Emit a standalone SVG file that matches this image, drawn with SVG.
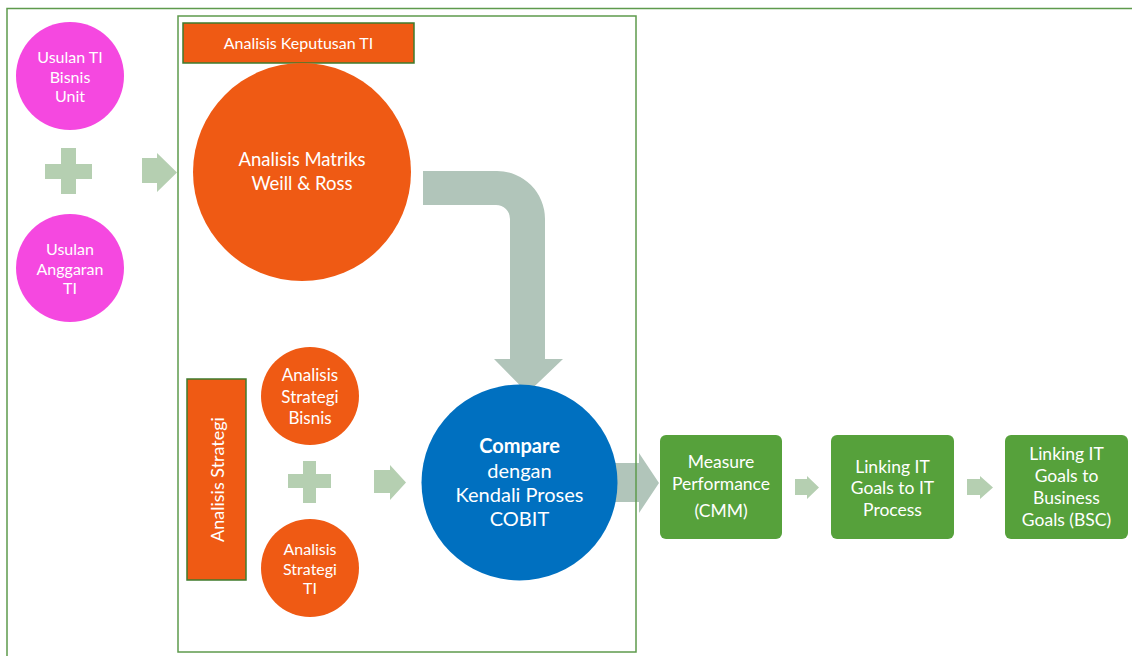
<svg xmlns="http://www.w3.org/2000/svg" width="1132" height="656" viewBox="0 0 1132 656">
  <defs>
    <style>
      .t { font-family: Lato, "Open Sans", "Liberation Sans", sans-serif; fill: #ffffff; text-anchor: middle; dominant-baseline: central; }
      .frame { fill: none; stroke: #5E9A4C; stroke-width: 1.5; }
      .pink { fill: #F548E0; }
      .orange { fill: #EF5A14; }
      .tag { fill: #EF5A14; stroke: #3F7B2C; stroke-width: 1.5; }
      .blue { fill: #0070C0; }
      .box { fill: #56A13B; }
      .plus { fill: #B5CFB1; }
      .arr { fill: #B5CFB1; }
      .flow { fill: #B1C5BA; }
    </style>
  </defs>
  <rect width="1132" height="656" fill="#ffffff"/>

  <!-- connectors and operators -->
  <g id="connectors">
    <!-- plus between the two proposals -->
    <path class="plus" d="M61 148 H76 V164 H92 V179 H76 V194 H61 V179 H45 V164 H61 Z"/>
    <!-- proposals to decision analysis -->
    <path class="arr" d="M142 158 H157 V153 L177 172.5 L157 192 V183 H142 Z"/>
    <!-- bent arrow: Weill & Ross to COBIT -->
    <path class="flow" d="M423 171 H497 A48 48 0 0 1 545 219 V359 H563 L527.5 393 L494 359 H510 V219 A14 14 0 0 0 496 205 H423 Z"/>
    <!-- plus between the two strategy analyses -->
    <path class="plus" d="M303 461 H316 V474 H331 V488 H316 V503 H303 V488 H288 V474 H303 Z"/>
    <!-- strategy to COBIT -->
    <path class="arr" d="M374 470 H390 V465 L406 482.5 L390 500 V493 H374 Z"/>
    <!-- COBIT to Measure Performance -->
    <path class="flow" d="M612 463 H639 V453 L659 483 L639 513 V502 H612 Z"/>
    <!-- process chain -->
    <path class="arr" d="M795 479 H807 V476 L819 487.5 L807 499 V495 H795 Z"/>
    <path class="arr" d="M967 479 H980 V476 L993 487.5 L980 499 V495 H967 Z"/>
  </g>

  <!-- frames -->
  <g id="frames">
    <path class="frame" d="M7 660 V8.5 H1140"/>
    <rect class="frame" x="178" y="16" width="458" height="636"/>
  </g>

  <g id="usulan-ti">
    <circle class="pink" cx="70" cy="76" r="54"/>
    <text class="t" font-size="16" x="70" y="56">Usulan TI</text>
    <text class="t" font-size="16" x="70" y="76">Bisnis</text>
    <text class="t" font-size="16" x="70" y="95">Unit</text>
  </g>

  <g id="usulan-anggaran">
    <circle class="pink" cx="70" cy="268" r="54"/>
    <text class="t" font-size="16" x="70" y="248">Usulan</text>
    <text class="t" font-size="16" x="70" y="268">Anggaran</text>
    <text class="t" font-size="16" x="70" y="287">TI</text>
  </g>

  <g id="analisis-keputusan">
    <rect class="tag" x="183" y="23" width="231" height="40"/>
    <text class="t" font-size="16" x="298.5" y="42">Analisis Keputusan TI</text>
  </g>

  <g id="matriks-weill-ross">
    <circle class="orange" cx="302" cy="172" r="109"/>
    <text class="t" font-size="18.5" x="302" y="159">Analisis Matriks</text>
    <text class="t" font-size="18.5" x="302" y="183">Weill &amp; Ross</text>
  </g>

  <g id="analisis-strategi">
    <rect class="tag" x="187" y="379" width="59" height="201"/>
    <text class="t" font-size="18" x="0" y="0" transform="translate(216.5 479.5) rotate(-90)">Analisis Strategi</text>
  </g>

  <g id="strategi-bisnis">
    <circle class="orange" cx="310" cy="396" r="49"/>
    <text class="t" font-size="17" x="310" y="374">Analisis</text>
    <text class="t" font-size="17" x="310" y="396">Strategi</text>
    <text class="t" font-size="17" x="310" y="417">Bisnis</text>
  </g>

  <g id="strategi-ti">
    <circle class="orange" cx="310" cy="568" r="49"/>
    <text class="t" font-size="16" x="310" y="548">Analisis</text>
    <text class="t" font-size="16" x="310" y="568">Strategi</text>
    <text class="t" font-size="16" x="310" y="587">TI</text>
  </g>

  <g id="compare-cobit">
    <circle class="blue" cx="519.5" cy="482.5" r="98"/>
    <text class="t" font-size="20" font-weight="bold" x="519.5" y="445">Compare</text>
    <text class="t" font-size="20" x="519.5" y="470">dengan</text>
    <text class="t" font-size="20" x="519.5" y="494">Kendali Proses</text>
    <text class="t" font-size="20" x="519.5" y="518">COBIT</text>
  </g>

  <g id="measure-performance">
    <rect class="box" x="660" y="435" width="122" height="104" rx="6"/>
    <text class="t" font-size="17.5" x="721" y="461">Measure</text>
    <text class="t" font-size="17.5" x="721" y="483">Performance</text>
    <text class="t" font-size="17.5" x="721" y="510">(CMM)</text>
  </g>

  <g id="linking-it-process">
    <rect class="box" x="831" y="435" width="123" height="104" rx="6"/>
    <text class="t" font-size="17.5" x="892.5" y="466">Linking IT</text>
    <text class="t" font-size="17.5" x="892.5" y="487">Goals to IT</text>
    <text class="t" font-size="17.5" x="892.5" y="509">Process</text>
  </g>

  <g id="linking-business-goals">
    <rect class="box" x="1005" y="435" width="123" height="104" rx="6"/>
    <text class="t" font-size="17.5" x="1066.5" y="453">Linking IT</text>
    <text class="t" font-size="17.5" x="1066.5" y="475">Goals to</text>
    <text class="t" font-size="17.5" x="1066.5" y="497">Business</text>
    <text class="t" font-size="17.5" x="1066.5" y="519">Goals (BSC)</text>
  </g>
</svg>
